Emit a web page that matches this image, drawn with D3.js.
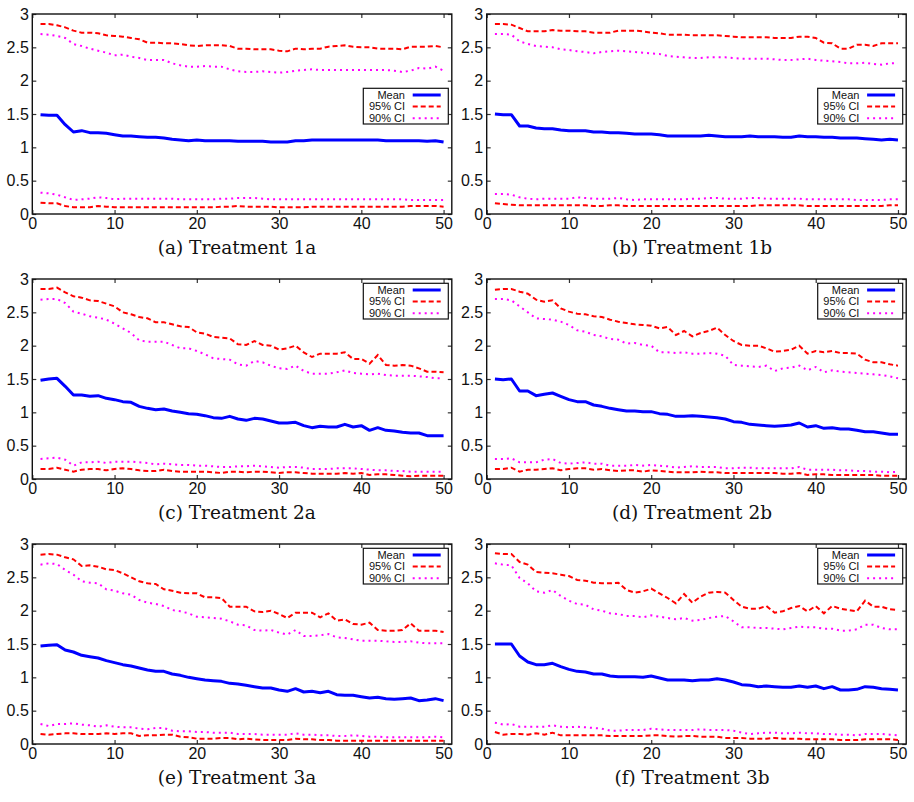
<!DOCTYPE html>
<html>
<head>
<meta charset="utf-8">
<script src="https://cdn.jsdelivr.net/npm/d3@7/dist/d3.min.js"></script>
<style>
  html, body { margin: 0; padding: 0; background: #fff; }
  svg { display: block; }
</style>
</head>
<body>
<svg id="chart" width="914" height="802"></svg>
<script>
// ---------------- DATA ----------------
const iterations = [1,2,3,4,5,6,7,8,9,10,11,12,13,14,15,16,17,18,19,20,21,22,23,24,25,26,27,28,29,30,31,32,33,34,35,36,37,38,39,40,41,42,43,44,45,46,47,48,49,50];
const xTicks = [0, 10, 20, 30, 40, 50];
const yTicks = [0, 0.5, 1, 1.5, 2, 2.5, 3];
const yTickLabels = ["0", "0.5", "1", "1.5", "2", "2.5", "3"];
const seriesNames = ["Mean", "95% CI", "90% CI"];
const panelLabels = ["(a)", "(b)", "(c)", "(d)", "(e)", "(f)"];
const panelTitles = ["Treatment 1a", "Treatment 1b", "Treatment 2a", "Treatment 2b", "Treatment 3a", "Treatment 3b"];

// Treatment 1a
const mean_a = [1.49,1.48,1.48,1.34,1.23,1.25,1.22,1.22,1.21,1.19,1.17,1.17,1.16,1.15,1.15,1.14,1.12,1.11,1.10,1.11,1.10,1.10,1.10,1.10,1.09,1.09,1.09,1.09,1.08,1.08,1.08,1.10,1.10,1.11,1.11,1.11,1.11,1.11,1.11,1.11,1.11,1.11,1.10,1.10,1.10,1.10,1.10,1.09,1.10,1.08];
const up95_a = [2.85,2.85,2.83,2.80,2.75,2.72,2.72,2.71,2.68,2.67,2.66,2.64,2.62,2.57,2.57,2.56,2.56,2.55,2.53,2.52,2.53,2.53,2.53,2.52,2.48,2.48,2.47,2.47,2.47,2.45,2.44,2.48,2.47,2.48,2.48,2.51,2.52,2.53,2.51,2.50,2.50,2.48,2.48,2.48,2.47,2.51,2.51,2.51,2.52,2.50];
const up90_a = [2.70,2.69,2.67,2.64,2.55,2.52,2.48,2.45,2.42,2.38,2.39,2.36,2.34,2.31,2.31,2.31,2.26,2.23,2.21,2.21,2.22,2.21,2.21,2.17,2.14,2.13,2.13,2.14,2.13,2.12,2.13,2.15,2.16,2.17,2.16,2.16,2.16,2.16,2.16,2.16,2.16,2.16,2.16,2.15,2.13,2.15,2.19,2.18,2.21,2.15];
const lo95_a = [0.17,0.16,0.16,0.12,0.10,0.10,0.10,0.12,0.11,0.10,0.10,0.10,0.10,0.10,0.10,0.10,0.10,0.10,0.10,0.10,0.10,0.10,0.11,0.11,0.12,0.11,0.11,0.11,0.11,0.10,0.10,0.10,0.10,0.11,0.11,0.11,0.11,0.11,0.11,0.11,0.11,0.11,0.11,0.11,0.11,0.12,0.12,0.12,0.12,0.11];
const lo90_a = [0.32,0.31,0.29,0.25,0.21,0.22,0.23,0.25,0.24,0.22,0.23,0.23,0.23,0.23,0.23,0.23,0.23,0.22,0.22,0.22,0.22,0.22,0.23,0.23,0.24,0.24,0.24,0.23,0.22,0.22,0.22,0.22,0.22,0.22,0.22,0.22,0.22,0.22,0.22,0.22,0.22,0.22,0.22,0.22,0.22,0.21,0.21,0.21,0.21,0.21];

// Treatment 1b
const mean_b = [1.50,1.49,1.49,1.32,1.32,1.29,1.28,1.28,1.26,1.25,1.25,1.25,1.23,1.23,1.22,1.22,1.21,1.20,1.20,1.20,1.19,1.17,1.17,1.17,1.17,1.17,1.18,1.17,1.16,1.16,1.16,1.17,1.16,1.16,1.16,1.15,1.15,1.17,1.16,1.16,1.15,1.15,1.14,1.14,1.14,1.13,1.12,1.11,1.12,1.11];
const up95_b = [2.85,2.85,2.84,2.79,2.74,2.74,2.74,2.76,2.75,2.75,2.74,2.74,2.72,2.72,2.72,2.75,2.75,2.75,2.74,2.72,2.71,2.69,2.69,2.69,2.68,2.68,2.68,2.68,2.67,2.66,2.65,2.65,2.65,2.65,2.64,2.64,2.64,2.66,2.66,2.64,2.57,2.56,2.48,2.48,2.54,2.54,2.52,2.56,2.56,2.56];
const up90_b = [2.70,2.70,2.69,2.59,2.55,2.52,2.51,2.50,2.47,2.46,2.44,2.43,2.41,2.43,2.44,2.45,2.44,2.43,2.42,2.41,2.40,2.37,2.36,2.35,2.34,2.34,2.35,2.35,2.35,2.34,2.33,2.33,2.33,2.33,2.32,2.31,2.31,2.32,2.33,2.31,2.30,2.29,2.28,2.26,2.26,2.27,2.25,2.24,2.26,2.26];
const lo95_b = [0.16,0.15,0.14,0.13,0.13,0.13,0.13,0.13,0.13,0.13,0.13,0.13,0.12,0.12,0.13,0.13,0.12,0.12,0.12,0.12,0.12,0.12,0.12,0.12,0.12,0.12,0.12,0.12,0.12,0.12,0.12,0.12,0.13,0.13,0.13,0.13,0.13,0.13,0.12,0.12,0.12,0.12,0.12,0.12,0.12,0.12,0.12,0.12,0.13,0.13];
const lo90_b = [0.30,0.30,0.29,0.25,0.23,0.22,0.23,0.23,0.23,0.23,0.25,0.24,0.23,0.23,0.23,0.24,0.22,0.21,0.22,0.22,0.22,0.22,0.22,0.22,0.23,0.23,0.24,0.24,0.23,0.23,0.23,0.24,0.24,0.23,0.23,0.23,0.23,0.23,0.22,0.22,0.22,0.22,0.22,0.22,0.21,0.21,0.21,0.21,0.22,0.22];

// Treatment 2a
const mean_c = [1.48,1.50,1.51,1.39,1.26,1.26,1.24,1.25,1.21,1.19,1.16,1.15,1.09,1.06,1.04,1.05,1.02,1.00,0.98,0.97,0.95,0.92,0.91,0.94,0.90,0.88,0.91,0.90,0.87,0.84,0.84,0.85,0.80,0.77,0.79,0.78,0.78,0.82,0.78,0.80,0.73,0.77,0.73,0.72,0.70,0.69,0.69,0.65,0.65,0.65];
const up95_c = [2.85,2.85,2.87,2.80,2.74,2.72,2.68,2.67,2.63,2.59,2.50,2.47,2.43,2.41,2.35,2.35,2.32,2.29,2.28,2.20,2.18,2.13,2.12,2.11,2.02,2.01,2.07,2.01,2.00,1.94,1.96,2.00,1.90,1.83,1.88,1.88,1.88,1.90,1.80,1.80,1.73,1.86,1.71,1.70,1.71,1.70,1.66,1.61,1.61,1.60];
const up90_c = [2.69,2.70,2.70,2.64,2.51,2.48,2.44,2.42,2.39,2.33,2.26,2.19,2.08,2.06,2.06,2.06,2.01,1.96,1.96,1.92,1.87,1.81,1.80,1.79,1.72,1.70,1.77,1.75,1.70,1.66,1.65,1.70,1.62,1.58,1.58,1.58,1.60,1.63,1.59,1.58,1.57,1.58,1.56,1.55,1.55,1.55,1.54,1.53,1.51,1.51];
const lo95_c = [0.15,0.15,0.17,0.14,0.11,0.14,0.15,0.15,0.13,0.15,0.16,0.15,0.13,0.12,0.12,0.14,0.12,0.11,0.11,0.11,0.11,0.10,0.09,0.11,0.11,0.10,0.11,0.11,0.10,0.09,0.10,0.10,0.09,0.08,0.08,0.08,0.08,0.09,0.08,0.09,0.06,0.07,0.07,0.06,0.05,0.04,0.05,0.05,0.05,0.05];
const lo90_c = [0.30,0.31,0.32,0.29,0.20,0.25,0.25,0.26,0.24,0.26,0.26,0.26,0.25,0.24,0.22,0.23,0.22,0.21,0.21,0.20,0.20,0.19,0.18,0.18,0.19,0.19,0.20,0.19,0.18,0.17,0.18,0.18,0.17,0.15,0.15,0.15,0.16,0.16,0.16,0.15,0.14,0.13,0.13,0.12,0.12,0.11,0.11,0.11,0.11,0.11];

// Treatment 2b
const mean_d = [1.50,1.49,1.50,1.32,1.32,1.25,1.27,1.29,1.24,1.19,1.16,1.16,1.11,1.09,1.06,1.04,1.02,1.02,1.01,1.01,0.98,0.97,0.94,0.94,0.95,0.94,0.93,0.92,0.90,0.86,0.85,0.82,0.81,0.80,0.79,0.80,0.81,0.84,0.78,0.80,0.76,0.77,0.75,0.75,0.73,0.71,0.71,0.69,0.67,0.67];
const up95_d = [2.84,2.85,2.85,2.81,2.78,2.69,2.66,2.68,2.56,2.51,2.48,2.47,2.44,2.43,2.39,2.36,2.34,2.32,2.31,2.30,2.26,2.28,2.16,2.22,2.14,2.19,2.22,2.27,2.16,2.07,2.01,2.00,2.00,1.96,1.91,1.92,1.94,2.00,1.88,1.92,1.90,1.92,1.89,1.89,1.88,1.79,1.75,1.75,1.72,1.70];
const up90_d = [2.70,2.70,2.68,2.59,2.50,2.41,2.40,2.39,2.36,2.31,2.23,2.21,2.16,2.14,2.10,2.09,2.03,2.04,2.01,2.00,1.90,1.90,1.89,1.90,1.88,1.88,1.89,1.88,1.85,1.71,1.70,1.69,1.68,1.70,1.62,1.66,1.67,1.70,1.63,1.68,1.60,1.63,1.61,1.60,1.59,1.58,1.57,1.56,1.54,1.51];
const lo95_d = [0.15,0.15,0.17,0.11,0.14,0.14,0.15,0.16,0.13,0.15,0.16,0.16,0.14,0.15,0.13,0.12,0.13,0.13,0.11,0.13,0.12,0.11,0.10,0.10,0.10,0.11,0.10,0.10,0.09,0.09,0.09,0.09,0.09,0.09,0.09,0.08,0.08,0.09,0.06,0.07,0.07,0.06,0.06,0.06,0.06,0.06,0.06,0.05,0.05,0.05];
const lo90_d = [0.30,0.30,0.31,0.25,0.25,0.25,0.29,0.30,0.24,0.23,0.24,0.25,0.23,0.23,0.20,0.20,0.20,0.21,0.20,0.21,0.20,0.19,0.17,0.18,0.19,0.18,0.18,0.18,0.16,0.16,0.17,0.17,0.16,0.16,0.16,0.16,0.16,0.18,0.14,0.14,0.14,0.14,0.13,0.13,0.12,0.12,0.11,0.11,0.10,0.11];

// Treatment 3a
const mean_e = [1.47,1.48,1.49,1.41,1.38,1.33,1.31,1.29,1.25,1.22,1.19,1.17,1.14,1.11,1.09,1.09,1.05,1.03,1.00,0.98,0.96,0.95,0.94,0.91,0.90,0.88,0.86,0.84,0.84,0.81,0.79,0.83,0.78,0.79,0.77,0.79,0.74,0.73,0.73,0.71,0.69,0.70,0.68,0.67,0.68,0.69,0.65,0.66,0.68,0.65];
const up95_e = [2.84,2.85,2.84,2.80,2.77,2.67,2.68,2.66,2.62,2.61,2.56,2.50,2.44,2.41,2.40,2.32,2.30,2.27,2.26,2.26,2.20,2.20,2.19,2.06,2.06,2.06,1.99,1.98,2.00,1.95,1.89,1.97,1.97,1.97,1.90,1.96,1.85,1.87,1.80,1.79,1.82,1.71,1.70,1.70,1.71,1.81,1.70,1.70,1.70,1.68];
const up90_e = [2.69,2.71,2.70,2.61,2.54,2.44,2.42,2.41,2.32,2.30,2.26,2.24,2.16,2.12,2.10,2.07,2.01,1.99,1.96,1.91,1.90,1.89,1.88,1.84,1.79,1.78,1.71,1.70,1.71,1.67,1.64,1.71,1.62,1.62,1.63,1.65,1.60,1.59,1.57,1.55,1.55,1.55,1.54,1.53,1.53,1.54,1.52,1.51,1.51,1.51];
const lo95_e = [0.15,0.14,0.15,0.16,0.16,0.15,0.15,0.15,0.16,0.15,0.16,0.16,0.12,0.13,0.13,0.14,0.14,0.11,0.10,0.08,0.08,0.08,0.09,0.09,0.07,0.08,0.07,0.06,0.06,0.06,0.06,0.08,0.07,0.07,0.06,0.06,0.05,0.05,0.05,0.05,0.05,0.05,0.05,0.05,0.05,0.05,0.05,0.05,0.05,0.05];
const lo90_e = [0.30,0.27,0.30,0.30,0.31,0.29,0.28,0.26,0.28,0.26,0.25,0.25,0.23,0.22,0.24,0.24,0.20,0.19,0.19,0.18,0.18,0.17,0.17,0.17,0.15,0.15,0.15,0.14,0.14,0.14,0.14,0.16,0.14,0.14,0.13,0.13,0.12,0.12,0.13,0.12,0.11,0.11,0.10,0.10,0.10,0.10,0.10,0.10,0.11,0.10];

// Treatment 3b
const mean_f = [1.50,1.50,1.50,1.32,1.23,1.19,1.19,1.21,1.16,1.12,1.09,1.08,1.05,1.05,1.02,1.01,1.01,1.01,1.00,1.02,0.99,0.96,0.96,0.96,0.95,0.96,0.96,0.98,0.96,0.93,0.89,0.88,0.86,0.87,0.86,0.85,0.85,0.87,0.85,0.87,0.83,0.86,0.81,0.81,0.82,0.86,0.85,0.83,0.82,0.81];
const up95_f = [2.86,2.85,2.85,2.73,2.69,2.58,2.57,2.56,2.54,2.52,2.46,2.45,2.42,2.41,2.41,2.42,2.31,2.27,2.29,2.33,2.26,2.19,2.11,2.25,2.12,2.21,2.27,2.28,2.27,2.16,2.06,2.03,2.03,2.07,1.97,1.99,2.04,2.07,1.99,2.07,1.96,2.07,2.03,2.01,1.99,2.15,2.06,2.06,2.02,2.01];
const up90_f = [2.71,2.69,2.68,2.49,2.41,2.29,2.27,2.31,2.22,2.15,2.10,2.09,2.02,2.00,1.96,1.95,1.92,1.92,1.90,1.93,1.91,1.89,1.87,1.89,1.85,1.86,1.89,1.91,1.92,1.84,1.75,1.75,1.74,1.74,1.73,1.72,1.74,1.76,1.75,1.75,1.73,1.73,1.70,1.70,1.72,1.79,1.79,1.74,1.72,1.72];
const lo95_f = [0.18,0.14,0.15,0.15,0.14,0.16,0.14,0.17,0.13,0.13,0.13,0.13,0.13,0.13,0.12,0.12,0.12,0.12,0.12,0.13,0.13,0.12,0.11,0.12,0.12,0.11,0.11,0.11,0.09,0.09,0.09,0.08,0.08,0.08,0.09,0.08,0.08,0.08,0.07,0.07,0.07,0.07,0.06,0.06,0.06,0.07,0.07,0.07,0.07,0.06];
const lo90_f = [0.32,0.29,0.30,0.26,0.26,0.26,0.26,0.28,0.26,0.25,0.26,0.25,0.24,0.23,0.20,0.20,0.21,0.21,0.21,0.23,0.22,0.21,0.21,0.21,0.21,0.22,0.21,0.21,0.21,0.20,0.17,0.15,0.16,0.17,0.17,0.16,0.16,0.17,0.16,0.16,0.15,0.15,0.14,0.14,0.13,0.15,0.15,0.15,0.14,0.13];

// ---------------- BUILD ----------------
const panels = [
  { mean: mean_a, up95: up95_a, lo95: lo95_a, up90: up90_a, lo90: lo90_a },
  { mean: mean_b, up95: up95_b, lo95: lo95_b, up90: up90_b, lo90: lo90_b },
  { mean: mean_c, up95: up95_c, lo95: lo95_c, up90: up90_c, lo90: lo90_c },
  { mean: mean_d, up95: up95_d, lo95: lo95_d, up90: up90_d, lo90: lo90_d },
  { mean: mean_e, up95: up95_e, lo95: lo95_e, up90: up90_e, lo90: lo90_e },
  { mean: mean_f, up95: up95_f, lo95: lo95_f, up90: up90_f, lo90: lo90_f }
];

const colX = [32.3, 486.7];
const rowY = [14, 279, 544];
const W = 419.5, H = 200;
const captionX = [237, 692];
const captionDy = 239.5;
const legendTop = [74.3, 4.3, 4.3];

const BLUE = "#0000ff", RED = "#ff0000", MAGENTA = "#ff00ff";
const sansFont = "'Liberation Sans', Arial, Helvetica, sans-serif";
const serifFont = "'DejaVu Serif', 'Liberation Serif', serif";

const svg = d3.select("#chart");
const x = d3.scaleLinear().domain([0, 51]).range([0, W]);
const y = d3.scaleLinear().domain([0, 3]).range([H, 0]);

const line = d3.line().x((d, i) => x(iterations[i])).y(d => y(d));

panels.forEach((p, k) => {
  const col = k % 2, row = Math.floor(k / 2);
  const g = svg.append("g").attr("transform", `translate(${colX[col]},${rowY[row]})`);

  // axes (ticks inward, mirrored)
  const axB = g.append("g").attr("transform", `translate(0,${H})`)
    .call(d3.axisBottom(x).tickValues(xTicks).tickSize(-4).tickPadding(4).tickFormat(d3.format("d")));
  const axT = g.append("g")
    .call(d3.axisTop(x).tickValues(xTicks).tickSize(-4).tickFormat(""));
  const axL = g.append("g")
    .call(d3.axisLeft(y).tickValues(yTicks).tickSize(-4).tickPadding(3.5).tickFormat((d, i) => yTickLabels[i]));
  const axR = g.append("g").attr("transform", `translate(${W},0)`)
    .call(d3.axisRight(y).tickValues(yTicks).tickSize(-4).tickFormat(""));
  [axB, axT, axL, axR].forEach(a => {
    a.select(".domain").remove();
    a.selectAll(".tick line").attr("stroke", "#333").attr("stroke-width", 1.2);
    a.selectAll("text").attr("font-family", sansFont).attr("font-size", 16).attr("fill", "#111");
  });

  // series
  g.append("path").datum(p.lo95).attr("d", line).attr("fill", "none")
    .attr("stroke", RED).attr("stroke-width", 2).attr("stroke-dasharray", "5,3");
  g.append("path").datum(p.up95).attr("d", line).attr("fill", "none")
    .attr("stroke", RED).attr("stroke-width", 2).attr("stroke-dasharray", "5,3");
  g.append("path").datum(p.lo90).attr("d", line).attr("fill", "none")
    .attr("stroke", MAGENTA).attr("stroke-width", 2).attr("stroke-dasharray", "2,4");
  g.append("path").datum(p.up90).attr("d", line).attr("fill", "none")
    .attr("stroke", MAGENTA).attr("stroke-width", 2).attr("stroke-dasharray", "2,4");
  g.append("path").datum(p.mean).attr("d", line).attr("fill", "none")
    .attr("stroke", BLUE).attr("stroke-width", 3).attr("stroke-linejoin", "round");

  // border
  g.append("rect").attr("x", 0).attr("y", 0).attr("width", W).attr("height", H)
    .attr("fill", "none").attr("stroke", "#111").attr("stroke-width", 1.4);

  // legend
  const lg = g.append("g").attr("transform", `translate(331,${legendTop[row]})`);
  lg.append("rect").attr("x", 0).attr("y", 0).attr("width", 85).attr("height", 35.7)
    .attr("fill", "#fff").attr("stroke", "#111").attr("stroke-width", 1.2);
  const styles = [
    { c: BLUE, w: 3, dash: null },
    { c: RED, w: 2, dash: "5,3" },
    { c: MAGENTA, w: 2, dash: "2,4" }
  ];
  seriesNames.forEach((name, i) => {
    const cy = 6.7 + i * 11.6;
    lg.append("text").attr("x", 41.7).attr("y", cy).attr("dy", "0.35em")
      .attr("text-anchor", "end").attr("font-family", sansFont).attr("font-size", 11)
      .attr("fill", "#111").text(name);
    const ln = lg.append("line").attr("x1", 49.4).attr("x2", 77.4).attr("y1", cy).attr("y2", cy)
      .attr("stroke", styles[i].c).attr("stroke-width", styles[i].w);
    if (styles[i].dash) ln.attr("stroke-dasharray", styles[i].dash);
  });

  // caption
  const cap = svg.append("text")
    .attr("x", captionX[col]).attr("y", rowY[row] + captionDy)
    .attr("text-anchor", "middle").attr("font-family", serifFont).attr("font-size", 18.5)
    .attr("fill", "#111");
  cap.append("tspan").text(panelLabels[k]);
  cap.append("tspan").text(" " + panelTitles[k]);
});
</script>
</body>
</html>
